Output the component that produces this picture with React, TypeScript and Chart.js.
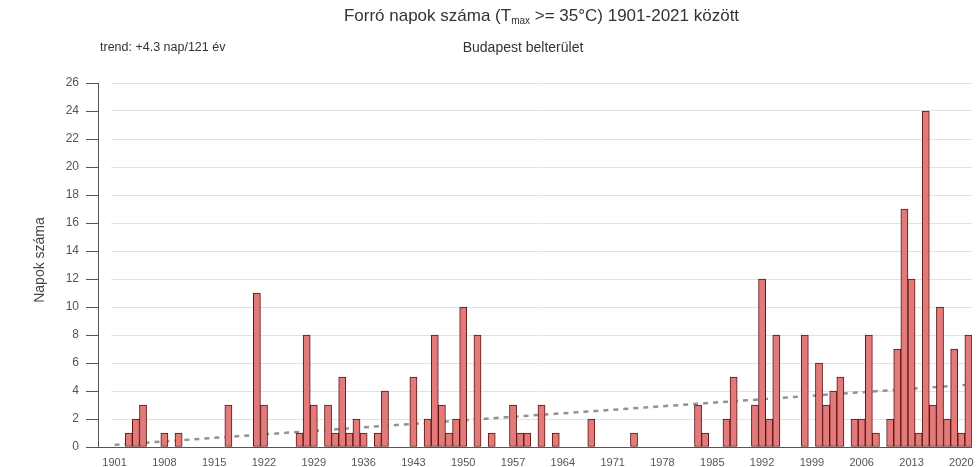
import React, { useEffect, useRef } from 'react';
import { Chart, registerables } from 'chart.js';

Chart.register(...registerables);

const FIRST_YEAR = 1901;

// Hot days (Tmax >= 35°C) per year, 1901..2021
const hotDays: number[] = [
  0, 0, 1, 2, 3, 0, 0, 1, 0, 1, // 1901-1910
  0, 0, 0, 0, 0, 0, 3, 0, 0, 0, // 1911-1920
  11, 3, 0, 0, 0, 0, 1, 8, 3, 0, // 1921-1930
  3, 1, 5, 1, 2, 1, 0, 1, 4, 0, // 1931-1940
  0, 0, 5, 0, 2, 8, 3, 1, 2, 10, // 1941-1950
  0, 8, 0, 1, 0, 0, 3, 1, 1, 0, // 1951-1960
  3, 0, 1, 0, 0, 0, 0, 2, 0, 0, // 1961-1970
  0, 0, 0, 1, 0, 0, 0, 0, 0, 0, // 1971-1980
  0, 0, 3, 1, 0, 0, 2, 5, 0, 0, // 1981-1990
  3, 12, 2, 8, 0, 0, 0, 8, 0, 6, // 1991-2000
  3, 4, 5, 0, 2, 2, 8, 1, 0, 2, // 2001-2010
  7, 17, 12, 1, 24, 3, 10, 2, 7, 1, // 2011-2020
  8, // 2021
];

const years: string[] = hotDays.map((_, i) => String(FIRST_YEAR + i));

const xTickLabels: string[] = [
  '1901', '1908', '1915', '1922', '1929', '1936', '1943', '1950', '1957',
  '1964', '1971', '1978', '1985', '1992', '1999', '2006', '2013', '2020',
];

const yTicks = { min: 0, max: 26, step: 2 };

// Linear trend line end points (+4.3 nap / 121 év)
const trendStart = 0.15;
const trendEnd = 4.45;

const titleParts: string[] = ['Forró napok száma (T', 'max', ' >= 35°C) 1901-2021 között'];
const trendText = 'trend: +4.3 nap/121 év';
const placeText = 'Budapest belterület';
const yAxisTitle = 'Napok száma';

const FONT = '"Liberation Sans", Arial, Helvetica, sans-serif';
const AXIS_X = 98;
const AXIS_COLOR = '#555';

const trendData: (number | null)[] = hotDays.map((_, i) =>
  i === 0 ? trendStart : i === hotDays.length - 1 ? trendEnd : null
);

const axisPlugin = {
  id: 'customAxis',
  beforeDatasetsDraw(chart: any) {
    const ctx = chart.ctx as CanvasRenderingContext2D;
    const area = chart.chartArea;
    const y = chart.scales.y;
    ctx.save();
    ctx.strokeStyle = AXIS_COLOR;
    ctx.lineWidth = 1;
    ctx.beginPath();
    ctx.moveTo(AXIS_X + 0.5, y.getPixelForValue(yTicks.max));
    ctx.lineTo(AXIS_X + 0.5, y.getPixelForValue(yTicks.min));
    for (let v = yTicks.min; v <= yTicks.max; v += yTicks.step) {
      const py = Math.round(y.getPixelForValue(v)) + 0.5;
      ctx.moveTo(AXIS_X - 12, py);
      ctx.lineTo(AXIS_X + 0.5, py);
    }
    const by = Math.round(y.getPixelForValue(0)) + 0.5;
    ctx.moveTo(AXIS_X, by);
    ctx.lineTo(area.right, by);
    ctx.stroke();
    ctx.restore();
  },
};

const textPlugin = {
  id: 'customTexts',
  afterDraw(chart: any) {
    const ctx = chart.ctx as CanvasRenderingContext2D;
    const area = chart.chartArea;
    const cx = (area.left + area.right) / 2;
    ctx.save();
    ctx.fillStyle = '#333';
    ctx.textBaseline = 'middle';

    const mainFont = `17px ${FONT}`;
    const subFont = `10px ${FONT}`;
    ctx.font = mainFont;
    const w0 = ctx.measureText(titleParts[0]).width;
    const w2 = ctx.measureText(titleParts[2]).width;
    ctx.font = subFont;
    const w1 = ctx.measureText(titleParts[1]).width;
    let x = cx - (w0 + w1 + w2) / 2;
    const ty = 16;
    ctx.textAlign = 'left';
    ctx.font = mainFont;
    ctx.fillText(titleParts[0], x, ty);
    x += w0;
    ctx.font = subFont;
    ctx.fillText(titleParts[1], x, ty + 5);
    x += w1;
    ctx.font = mainFont;
    ctx.fillText(titleParts[2], x, ty);

    ctx.font = `12.5px ${FONT}`;
    ctx.textAlign = 'left';
    ctx.fillText(trendText, 100, 48);
    ctx.font = `14px ${FONT}`;
    ctx.textAlign = 'center';
    ctx.fillText(placeText, 523, 48);

    ctx.font = `14px ${FONT}`;
    ctx.fillStyle = '#444';
    ctx.translate(40, 260);
    ctx.rotate(-Math.PI / 2);
    ctx.textAlign = 'center';
    ctx.fillText(yAxisTitle, 0, 0);
    ctx.restore();
  },
};

export default function App() {
  const canvasRef = useRef<HTMLCanvasElement | null>(null);

  useEffect(() => {
    const canvas = canvasRef.current;
    if (!canvas) return;
    Chart.defaults.font.family = FONT;
    const chart = new Chart(canvas, {
      type: 'bar',
      data: {
        labels: years,
        datasets: [
          {
            type: 'bar',
            data: hotDays,
            backgroundColor: 'rgb(226,122,122)',
            borderColor: 'rgb(95,18,18)',
            borderWidth: 1,
            borderSkipped: false,
            barPercentage: 1,
            categoryPercentage: 1,
            order: 1,
          } as any,
          {
            type: 'line',
            data: trendData,
            borderColor: '#939393',
            borderWidth: 2.5,
            borderDash: [5, 5],
            pointRadius: 0,
            spanGaps: true,
            fill: false,
            order: 2,
          } as any,
        ],
      },
      options: {
        responsive: false,
        maintainAspectRatio: false,
        animation: false,
        layout: { padding: { top: 83, right: 8, left: 0, bottom: 0 } },
        plugins: {
          legend: { display: false },
          tooltip: { enabled: false },
          title: { display: false },
        },
        scales: {
          x: {
            grid: { display: false, drawTicks: false },
            border: { display: false },
            ticks: {
              autoSkip: false,
              maxRotation: 0,
              minRotation: 0,
              padding: 9,
              color: '#555',
              font: { size: 11 },
              callback: (_v: any, i: number) => (xTickLabels.includes(years[i]) ? years[i] : ''),
            },
            afterFit: (s: any) => {
              s.height = 20;
              s.paddingLeft = 0;
              s.paddingRight = 0;
            },
          },
          y: {
            min: yTicks.min,
            max: yTicks.max,
            ticks: { stepSize: yTicks.step, padding: 32, color: '#555', font: { size: 12 } },
            grid: { color: '#e2e2e2', drawTicks: false },
            border: { display: false },
            afterFit: (s: any) => {
              s.width = 111;
              s.paddingTop = 0;
              s.paddingBottom = 0;
            },
          },
        },
      } as any,
      plugins: [axisPlugin, textPlugin],
    });
    return () => chart.destroy();
  }, []);

  return (
    <div style={{ position: 'absolute', left: 0, top: 0, width: 980, height: 467, background: '#fff' }}>
      <canvas ref={canvasRef} width={980} height={467} style={{ display: 'block', width: 980, height: 467 }} />
    </div>
  );
}
